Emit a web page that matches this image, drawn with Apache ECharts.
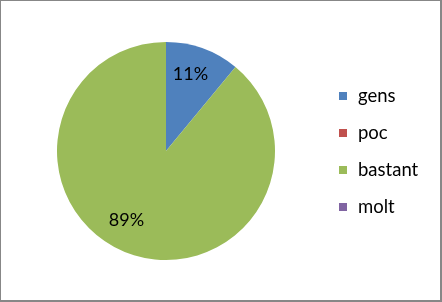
<!DOCTYPE html>
<html><head><meta charset="utf-8">
<script src="https://cdn.jsdelivr.net/npm/echarts@6/dist/echarts.min.js"></script>
<style>
html,body{margin:0;padding:0;background:#fff;}
#c{width:442px;height:302px;box-sizing:border-box;border-style:solid;border-color:#878787;border-width:1px 2px 2px 1px;}
</style></head><body>
<div id="c"></div>
<script>
const categories = ['gens', 'poc', 'bastant', 'molt'];
const values = [11, 0, 89, 0];
const colors = ['#4F81BD', '#C0504D', '#9BBB59', '#8064A2'];
const labelShift = [[5, -23], [0, 0], [-20, 15], [0, 0]];

const chart = echarts.init(document.getElementById('c'), null, {renderer: 'canvas'});
chart.setOption({
  animation: false,
  color: colors,
  legend: {
    orient: 'vertical',
    left: 338,
    top: 85,
    padding: 0,
    icon: 'rect',
    itemWidth: 8,
    itemHeight: 8,
    itemGap: 17,
    textStyle: {fontFamily: 'Lato', fontSize: 18.5, lineHeight: 20, color: '#000', padding: [0, 0, 0, 6]},
    data: categories
  },
  series: [{
    type: 'pie',
    center: [165, 150],
    radius: [0, 109],
    startAngle: 90,
    clockwise: true,
    avoidLabelOverlap: false,
    stillShowZeroSum: true,
    label: {
      show: true,
      position: 'inside',
      fontFamily: 'Lato',
      fontSize: 18,
      color: '#000',
      formatter: p => p.value > 0 ? p.value + '%' : ''
    },
    labelLayout: p => ({dx: labelShift[p.dataIndex][0], dy: labelShift[p.dataIndex][1]}),
    labelLine: {show: false},
    itemStyle: {borderWidth: 0},
    emphasis: {disabled: true},
    data: categories.map((c, i) => ({name: c, value: values[i]}))
  }]
});
</script></body></html>
